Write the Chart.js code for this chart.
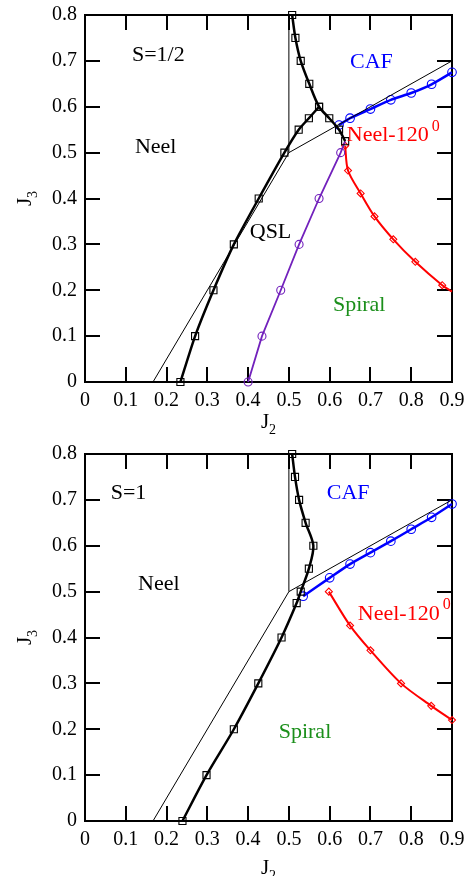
<!DOCTYPE html>
<html><head><meta charset="utf-8">
<script src="https://cdn.jsdelivr.net/npm/chart.js@4/dist/chart.umd.min.js"></script>
<style>
html,body{margin:0;padding:0;background:#fff;width:469px;height:876px;overflow:hidden;}
.wrap{position:absolute;left:0;width:469px;height:438px;}
canvas{display:block;}
</style>
</head><body>
<div class="wrap" style="top:0"><canvas id="c1" width="469" height="438"></canvas></div>
<div class="wrap" style="top:438px"><canvas id="c2" width="469" height="438"></canvas></div>
<script>
// ---- tick values / labels ----
const xTickVals = [0, 0.1, 0.2, 0.3, 0.4, 0.5, 0.6, 0.7, 0.8, 0.9];
const xTickLabels = ["0", "0.1", "0.2", "0.3", "0.4", "0.5", "0.6", "0.7", "0.8", "0.9"];
const yTickVals = [0, 0.1, 0.2, 0.3, 0.4, 0.5, 0.6, 0.7, 0.8];
const yTickLabels = ["0", "0.1", "0.2", "0.3", "0.4", "0.5", "0.6", "0.7", "0.8"];

// ---- phase-boundary guide lines (both panels) ----
const thinAX = [0.1667, 0.5, 0.9];
const thinAY = [0, 0.5, 0.7];
const thinBX = [0.5, 0.5];
const thinBY = [0.5, 0.8];

// ---- S=1/2 panel ----
const halfBlackLowerX = [0.234, 0.27, 0.315, 0.365, 0.426, 0.489, 0.524, 0.549, 0.574];
const halfBlackLowerY = [0, 0.1, 0.2, 0.3, 0.4, 0.5, 0.55, 0.575, 0.6];
const halfBlackUpperX = [0.508, 0.516, 0.529, 0.55, 0.574, 0.599, 0.623, 0.638];
const halfBlackUpperY = [0.8, 0.75, 0.7, 0.65, 0.6, 0.575, 0.55, 0.525];
const halfCafX = [0.623, 0.65, 0.70, 0.75, 0.80, 0.85, 0.90];
const halfCafY = [0.56, 0.575, 0.595, 0.615, 0.63, 0.649, 0.675];
const halfNeel120X = [0.638, 0.645, 0.676, 0.71, 0.756, 0.81, 0.876, 0.9];
const halfNeel120Y = [0.515, 0.461, 0.411, 0.361, 0.311, 0.262, 0.211, 0.197];
const halfQslX = [0.400, 0.434, 0.480, 0.525, 0.574, 0.627, 0.638];
const halfQslY = [0, 0.1, 0.2, 0.3, 0.4, 0.5, 0.525];

// ---- S=1 panel ----
const oneBlackX = [0.239, 0.298, 0.365, 0.425, 0.482, 0.519, 0.529, 0.549, 0.560, 0.541, 0.525, 0.515, 0.508];
const oneBlackY = [0, 0.1, 0.2, 0.3, 0.4, 0.475, 0.5, 0.55, 0.6, 0.65, 0.7, 0.75, 0.8];
const oneCafX = [0.535, 0.6, 0.65, 0.70, 0.75, 0.80, 0.85, 0.90];
const oneCafY = [0.49, 0.53, 0.56, 0.585, 0.61, 0.636, 0.662, 0.691];
const oneNeel120X = [0.598, 0.65, 0.70, 0.775, 0.849, 0.9];
const oneNeel120Y = [0.5, 0.426, 0.372, 0.30, 0.251, 0.22];

// ---- region labels ----
const halfLabels = [
  {t: "S=1/2", x: 0.115, y: 0.713, c: "#000"},
  {t: "Neel", x: 0.1225, y: 0.512, c: "#000"},
  {t: "CAF", x: 0.65, y: 0.696, c: "#0000ff"},
  {t: "Neel-120", sup: "0", x: 0.642, y: 0.537, c: "#ff0000"},
  {t: "QSL", x: 0.404, y: 0.327, c: "#000"},
  {t: "Spiral", x: 0.608, y: 0.168, c: "#1b8f1b"}
];
const oneLabels = [
  {t: "S=1", x: 0.063, y: 0.714, c: "#000"},
  {t: "Neel", x: 0.13, y: 0.517, c: "#000"},
  {t: "CAF", x: 0.593, y: 0.715, c: "#0000ff"},
  {t: "Neel-120", sup: "0", x: 0.669, y: 0.451, c: "#ff0000"},
  {t: "Spiral", x: 0.475, y: 0.194, c: "#1b8f1b"}
];

const SERIF = '"Liberation Serif", "Times New Roman", serif';
const BLUE = "#0000ff", RED = "#ff0000", INDIGO = "#7221bc", BLACK = "#000";
const CLEAR = "rgba(0,0,0,0)";

function pts(xs, ys) { return xs.map((x, i) => ({x: x, y: ys[i]})); }
function thin(xs, ys) {
  return {data: pts(xs, ys), showLine: true, borderColor: BLACK, borderWidth: 1, pointRadius: 0, tension: 0, clip: false};
}
function series(xs, ys, color, width, style, radius, tension, noMarkerLast) {
  const r = xs.map((_, i) => (noMarkerLast && i === xs.length - 1) ? 0 : radius);
  return {data: pts(xs, ys), showLine: true, borderColor: color, borderWidth: width,
    pointStyle: style, pointRadius: r, pointBorderColor: color, pointBackgroundColor: CLEAR,
    pointBorderWidth: 1.1, tension: tension, clip: false};
}

function drawFrame(chart) {
  const ctx = chart.ctx, a = chart.chartArea, sx = chart.scales.x, sy = chart.scales.y;
  const L = a.left, R = a.right, T = a.top, B = a.bottom;
  ctx.save();
  ctx.fillStyle = "#000";
  // top and right tick marks (mirrors of the library's bottom/left ticks)
  xTickVals.forEach(v => {
    const q = Math.round(sx.getPixelForValue(v));
    ctx.fillRect(q - 1, T, 2, 15);
  });
  yTickVals.forEach(v => {
    const q = Math.round(sy.getPixelForValue(v));
    ctx.fillRect(R - 15, q - 1, 15, 2);
  });
  ctx.fillRect(L - 1, T - 1, R - L + 2, 2);
  ctx.fillRect(L - 1, B - 1, R - L + 2, 2);
  ctx.fillRect(L - 1, T - 1, 2, B - T + 2);
  ctx.fillRect(R - 1, T - 1, 2, B - T + 2);
  ctx.restore();
}

const overlay = {
  id: 'overlay',
  beforeDatasetsDraw(chart) { drawFrame(chart); },
  afterDatasetsDraw(chart, args, opts) {
    const ctx = chart.ctx, sx = chart.scales.x, sy = chart.scales.y, a = chart.chartArea;
    ctx.save();
    (opts.labels || []).forEach(l => {
      const px = sx.getPixelForValue(l.x), py = sy.getPixelForValue(l.y);
      ctx.font = "22px " + SERIF;
      ctx.fillStyle = l.c;
      ctx.textAlign = "left";
      ctx.textBaseline = "middle";
      ctx.fillText(l.t, px, py);
      if (l.sup) {
        const w = ctx.measureText(l.t).width;
        ctx.font = "16px " + SERIF;
        ctx.fillText(l.sup, px + w + 3, py - 9);
      }
    });
    // x title J_2
    ctx.fillStyle = "#000";
    ctx.textBaseline = "alphabetic";
    ctx.textAlign = "left";
    ctx.font = "21px " + SERIF;
    const wJ = ctx.measureText("J").width;
    ctx.font = "14px " + SERIF;
    const w2 = ctx.measureText("2").width;
    const x0 = (a.left + a.right) / 2 - (wJ + w2) / 2;
    ctx.font = "21px " + SERIF;
    ctx.fillText("J", x0, opts.xTitleBase);
    ctx.font = "14px " + SERIF;
    ctx.fillText("2", x0 + wJ, opts.xTitleBase + 6);
    // y title J_3 (rotated)
    ctx.save();
    ctx.translate(31, (a.top + a.bottom) / 2);
    ctx.rotate(-Math.PI / 2);
    ctx.font = "21px " + SERIF;
    const wJ3 = ctx.measureText("J").width;
    ctx.font = "14px " + SERIF;
    const w3 = ctx.measureText("3").width;
    const s0 = -(wJ3 + w3) / 2;
    ctx.font = "21px " + SERIF;
    ctx.fillText("J", s0, 0);
    ctx.font = "14px " + SERIF;
    ctx.fillText("3", s0 + wJ3, 6);
    ctx.restore();
    ctx.restore();
  }
};

const gridInside = {display: true, drawOnChartArea: false, drawTicks: true, tickLength: -15,
  tickWidth: 2, tickColor: "#000", lineWidth: 2, color: "#000"};

function makeChart(id, datasets, padTop, xAxisH, overlayOpts) {
  return new Chart(document.getElementById(id), {
    type: 'scatter',
    data: {datasets: datasets},
    options: {
      responsive: false, animation: false, devicePixelRatio: 1,
      layout: {padding: {top: padTop, right: 17, left: 0, bottom: 0}},
      plugins: {legend: {display: false}, tooltip: {enabled: false}, overlay: overlayOpts},
      scales: {
        x: {
          type: 'linear', min: 0, max: 0.9,
          grid: gridInside, border: {display: false},
          afterBuildTicks: s => { s.ticks = xTickVals.map(v => ({value: v})); },
          afterFit: s => { s.height = xAxisH; s.paddingLeft = 0; s.paddingRight = 0; },
          ticks: {font: {family: SERIF, size: 20}, color: "#000", padding: 22, maxRotation: 0, autoSkip: false,
            callback: (v, i) => xTickLabels[i]}
        },
        y: {
          type: 'linear', min: 0, max: 0.8,
          grid: gridInside, border: {display: false},
          afterBuildTicks: s => { s.ticks = yTickVals.map(v => ({value: v})); },
          afterFit: s => { s.width = 85; s.paddingTop = 0; s.paddingBottom = 0; },
          ticks: {font: {family: SERIF, size: 20}, color: "#000", padding: 23, autoSkip: false,
            callback: (v, i) => yTickLabels[i]}
        }
      }
    },
    plugins: [overlay]
  });
}

makeChart('c1', [
  thin(thinAX, thinAY),
  thin(thinBX, thinBY),
  series(halfBlackLowerX, halfBlackLowerY, BLACK, 2.5, 'rect', 5, 0.2, false),
  series(halfBlackUpperX, halfBlackUpperY, BLACK, 2.5, 'rect', 5, 0.3, false),
  series(halfQslX, halfQslY, INDIGO, 1.8, 'circle', 4, 0, true),
  series(halfNeel120X, halfNeel120Y, RED, 2, 'rectRot', 3.5, 0.3, true),
  series(halfCafX, halfCafY, BLUE, 2.5, 'circle', 4.3, 0.2, false)
], 15, 56, {labels: halfLabels, xTitleBase: 428});

makeChart('c2', [
  thin(thinAX, thinAY),
  thin(thinBX, thinBY),
  series(oneBlackX, oneBlackY, BLACK, 2.5, 'rect', 5, 0.3, false),
  series(oneNeel120X, oneNeel120Y, RED, 2, 'rectRot', 3.5, 0.3, false),
  series(oneCafX, oneCafY, BLUE, 2.5, 'circle', 4.3, 0.2, false)
], 16, 55, {labels: oneLabels, xTitleBase: 436});
</script>
</body></html>
